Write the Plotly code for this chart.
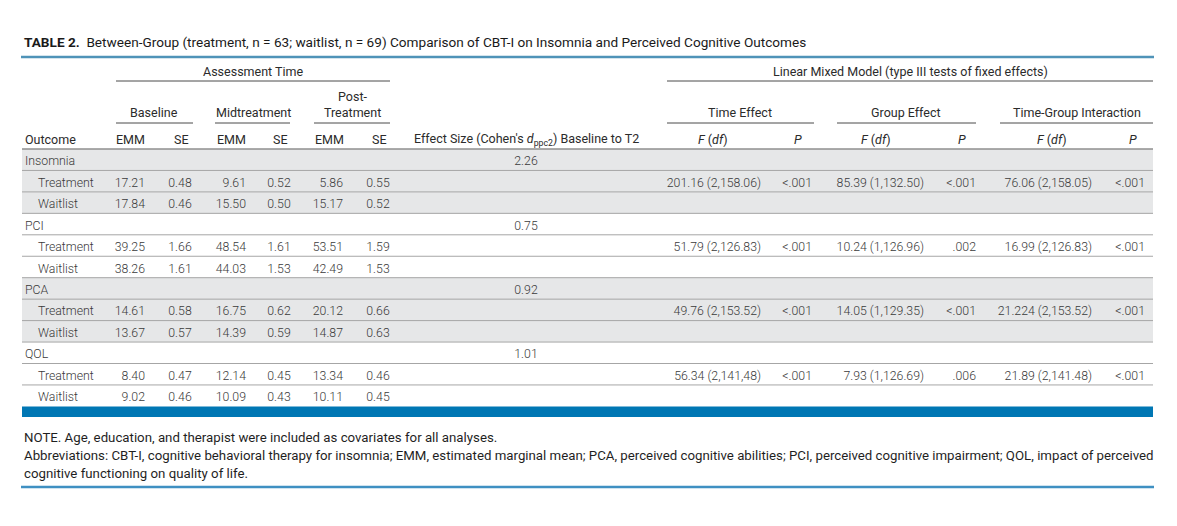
import plotly.graph_objects as go

title = "<b>TABLE 2.</b>  Between-Group (treatment, n = 63; waitlist, n = 69) Comparison of CBT-I on Insomnia and Perceived Cognitive Outcomes"
outcomes = ["Insomnia", "PCI", "PCA", "QOL"]
groups = ["Treatment", "Waitlist"]
effect_sizes = ["2.26", "0.75", "0.92", "1.01"]

# treatment, waitlist per outcome
baseline_emm = [17.21, 17.84, 39.25, 38.26, 14.61, 13.67, 8.40, 9.02]
baseline_se = [0.48, 0.46, 1.66, 1.61, 0.58, 0.57, 0.47, 0.46]
mid_emm = [9.61, 15.50, 48.54, 44.03, 16.75, 14.39, 12.14, 10.09]
mid_se = [0.52, 0.50, 1.61, 1.53, 0.62, 0.59, 0.45, 0.43]
post_emm = [5.86, 15.17, 53.51, 42.49, 20.12, 14.87, 13.34, 10.11]
post_se = [0.55, 0.52, 1.59, 1.53, 0.66, 0.63, 0.46, 0.45]

# treatment row only
time_f = ["201.16 (2,158.06)", "51.79 (2,126.83)", "49.76 (2,153.52)", "56.34 (2,141,48)"]
time_p = ["<.001", "<.001", "<.001", "<.001"]
group_f = ["85.39 (1,132.50)", "10.24 (1,126.96)", "14.05 (1,129.35)", "7.93 (1,126.69)"]
group_p = ["<.001", ".002", "<.001", ".006"]
inter_f = ["76.06 (2,158.05)", "16.99 (2,126.83)", "21.224 (2,153.52)", "21.89 (2,141.48)"]
inter_p = ["<.001", "<.001", "<.001", "<.001"]

notes = [
    "NOTE. Age, education, and therapist were included as covariates for all analyses.",
    "Abbreviations: CBT-I, cognitive behavioral therapy for insomnia; EMM, estimated marginal mean; PCA, perceived cognitive abilities; PCI, perceived cognitive impairment; QOL, impact of perceived",
    "cognitive functioning on quality of life.",
]

FONT = "Roboto"
TXT = "#3a3a3a"
LEFT, RIGHT = 22, 1153
ROW0, ROWH = 149, 21.45
PAGE_PAD = 8  # body margin of the html page
TEXT_DROP = 2.5  # scatter text sits a bit high

fig = go.Figure()


def row_mid(i):
    return ROW0 + ROWH * (i + 0.5) + TEXT_DROP


def esc(s):
    return s.replace("<", "&lt;")


# shaded blocks (Insomnia, PCA)
for k in (0, 2):
    fig.add_shape(type="rect", x0=LEFT, x1=RIGHT, y0=ROW0 + ROWH * 3 * k,
                  y1=ROW0 + ROWH * 3 * (k + 1), fillcolor="#e6e7e8",
                  line_width=0, layer="below")

# row rules
for i in range(1, 12):
    y = ROW0 + ROWH * i
    fig.add_shape(type="line", x0=LEFT, x1=RIGHT, y0=y, y1=y,
                  line=dict(color="#a6a6a6", width=1))

fig.add_shape(type="line", x0=LEFT, x1=RIGHT, y0=ROW0, y1=ROW0,
              line=dict(color="#8f8f8f", width=1.5))
fig.add_shape(type="line", x0=LEFT - 1, x1=RIGHT + 1, y0=57, y1=57,
              line=dict(color="#4f93b8", width=2.5))
fig.add_shape(type="rect", x0=LEFT, x1=RIGHT, y0=ROW0 + ROWH * 12, y1=417,
              fillcolor="#0077b4", line_width=0)
fig.add_shape(type="line", x0=LEFT - 1, x1=RIGHT + 1, y0=487, y1=487,
              line=dict(color="#3f90c2", width=2.5))

spans = [(116, 390, 81), (667, RIGHT, 81),
         (116, 193, 123), (215, 290, 123), (314, 390, 123),
         (667, 814, 123), (837, 976, 123), (1000, RIGHT, 123)]
for x0, x1, y in spans:
    fig.add_shape(type="line", x0=x0, x1=x1, y0=y, y1=y,
                  line=dict(color="#4a4a4a", width=1))


def ann(text, x, y, anchor="center", size=12.5, color="#2b2b2b", weight=400):
    fig.add_annotation(text=text, x=x, y=y, xref="x", yref="y",
                       xanchor=anchor, yanchor="middle", showarrow=False,
                       font=dict(family=FONT, size=size, color=color, weight=weight))


ann(title, LEFT, 42, "left", 13.6, "#1a1a1a")
ann("Assessment Time", 253, 71)
ann("Linear Mixed Model (type III tests of fixed effects)", 910, 71)
ann("Baseline", 154, 112)
ann("Midtreatment", 253, 112)
ann("Post-", 352, 96)
ann("Treatment", 352, 112)
ann("Time Effect", 740, 112)
ann("Group Effect", 906, 112)
ann("Time-Group Interaction", 1077, 112)

hy = 139
ann("Outcome", 23, hy, "left")
for cx in (130, 231, 329):
    ann("EMM", cx, hy)
for cx in (181, 280, 379):
    ann("SE", cx, hy)
ann("Effect Size (Cohen's <i>d</i><sub>ppc2</sub>) Baseline to T2", 412, hy, "left")
for cx in (713, 876, 1052):
    ann("<i>F</i> (<i>df</i>)", cx, hy)
for cx in (798, 962, 1133):
    ann("<i>P</i>", cx, hy)

for j, line in enumerate(notes):
    ann(line, LEFT, 437 + 18 * j, "left", 13.25, "#1f1f1f")

# body cells
grp_y = [row_mid(3 * k) for k in range(len(outcomes))]
sub_y = [row_mid(3 * k + 1 + g) for k in range(len(outcomes)) for g in range(len(groups))]
trt_y = [row_mid(3 * k + 1) for k in range(len(outcomes))]
body_font = dict(family=FONT, size=12.3, color=TXT, weight=300)


def col(x, y, text, pos):
    fig.add_trace(go.Scatter(x=[x] * len(y), y=y, text=[esc(t) for t in text],
                             mode="text", textposition=pos, textfont=body_font,
                             hoverinfo="skip", showlegend=False))


col(25, grp_y, outcomes, "middle right")
col(38, sub_y, groups * len(outcomes), "middle right")
col(526, grp_y, effect_sizes, "middle center")

for xr, vals in ((145, baseline_emm), (246, mid_emm), (343, post_emm)):
    col(xr, sub_y, [f"{v:.2f}" for v in vals], "middle left")
for xc, vals in ((180, baseline_se), (279, mid_se), (378, post_se)):
    col(xc, sub_y, [f"{v:.2f}" for v in vals], "middle center")

col(761, trt_y, time_f, "middle left")
col(812, trt_y, time_p, "middle left")
col(924, trt_y, group_f, "middle left")
col(976, trt_y, group_p, "middle left")
col(1092, trt_y, inter_f, "middle left")
col(1145, trt_y, inter_p, "middle left")

fig.update_layout(
    width=1177, height=526,
    margin=dict(l=0, r=0, t=0, b=0),
    paper_bgcolor="white", plot_bgcolor="white",
    xaxis=dict(range=[PAGE_PAD, 1177 + PAGE_PAD], visible=False, fixedrange=True),
    yaxis=dict(range=[526 + PAGE_PAD, PAGE_PAD], visible=False, fixedrange=True),
)

fig.write_html("out.html")
